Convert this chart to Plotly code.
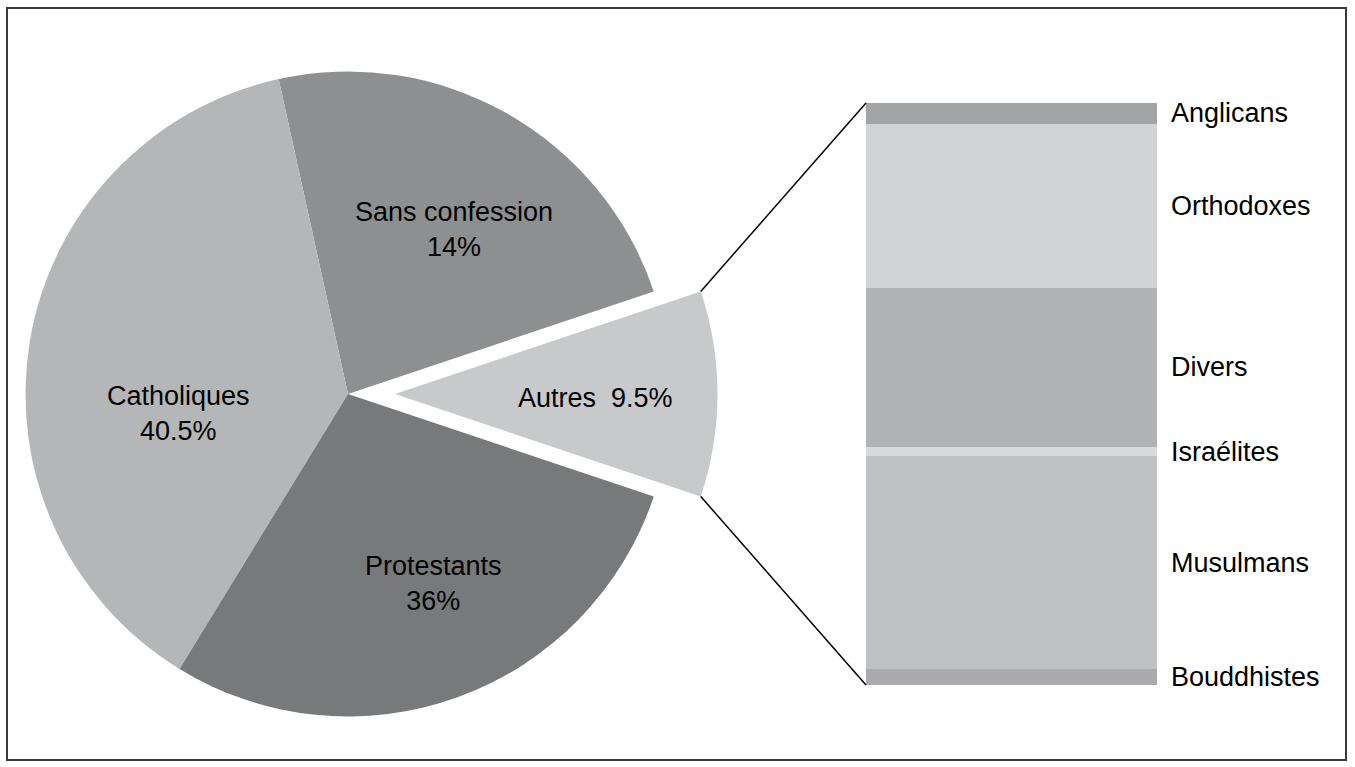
import plotly.graph_objects as go
import math

# ---------------- data ----------------
pie_categories = ["Sans confession", "Catholiques", "Protestants", "Autres"]
pie_shares = [23.3, 37.8, 28.6, 10.3]          # slice sizes as drawn
pie_labels_pct = ["14%", "40.5%", "36%", "9.5%"]  # printed labels
pie_colors = ["#8e8f91", "#b5b6b8", "#78797b", "#c8c9cb"]

bar_categories = ["Bouddhistes", "Musulmans", "Israélites", "Divers", "Orthodoxes", "Anglicans"]
bar_values = [0.26, 3.48, 0.15, 2.60, 2.68, 0.34]
bar_colors = ["#ababad", "#c0c1c3", "#d9dadc", "#b2b3b5", "#d2d3d5", "#a2a3a4"]

# ---------------- layout geometry (pixels) ----------------
W, H = 1355, 767
def px(x):
    return x / W
def py(y):
    return 1 - y / H

pie_cx, pie_cy, pie_r = 348, 394, 322.5
explode_px = 47
bar_left, bar_right, bar_top, bar_bottom = 866, 1157, 103, 685
FONT = "Liberation Sans, Arial, sans-serif"
FS = 27

total = sum(pie_shares)
ang = [360 * v / total for v in pie_shares]
# Autres centred at 3 o'clock; slices run counter-clockwise starting with Sans confession
rotation = 90 - ang[3] / 2 - ang[0]

fig = go.Figure()

dom_main = dict(x=[px(pie_cx - pie_r), px(pie_cx + pie_r)],
                y=[py(pie_cy + pie_r), py(pie_cy - pie_r)])
dom_expl = dict(x=[px(pie_cx + explode_px - pie_r), px(pie_cx + explode_px + pie_r)],
                y=[py(pie_cy + pie_r), py(pie_cy - pie_r)])

main_colors = pie_colors[:3] + ["rgba(0,0,0,0)"]
expl_colors = ["rgba(0,0,0,0)"] * 3 + [pie_colors[3]]

fig.add_trace(go.Pie(labels=pie_categories, values=pie_shares, sort=False,
                     direction="counterclockwise", rotation=rotation,
                     marker=dict(colors=main_colors, line=dict(width=0)),
                     textinfo="none", hoverinfo="skip", showlegend=False,
                     domain=dom_main))
fig.add_trace(go.Pie(labels=pie_categories, values=pie_shares, sort=False,
                     direction="counterclockwise", rotation=rotation,
                     marker=dict(colors=expl_colors, line=dict(width=0)),
                     textinfo="none", hoverinfo="skip", showlegend=False,
                     domain=dom_expl))

# stacked bar
for cat, val, col in zip(bar_categories, bar_values, bar_colors):
    fig.add_trace(go.Bar(x=[0], y=[val], name=cat, marker=dict(color=col, line=dict(width=0)),
                         width=1, hoverinfo="skip", showlegend=False))

bar_total = sum(bar_values)

annotations = []
pie_label_pos = [
    (454, 229, f"{pie_categories[0]}<br>{pie_labels_pct[0]}"),
    (178, 414, f"{pie_categories[1]}<br>{pie_labels_pct[1]}"),
    (433, 583, f"{pie_categories[2]}<br>{pie_labels_pct[2]}"),
    (595, 398, f"{pie_categories[3]}  {pie_labels_pct[3]}"),
]
for x, y, t in pie_label_pos:
    annotations.append(dict(x=px(x), y=py(y), xref="paper", yref="paper", text=t,
                            showarrow=False, xanchor="center", yanchor="middle",
                            font=dict(family=FONT, size=FS, color="#000000")))

cum = 0
for cat, val in zip(bar_categories, bar_values):
    mid = cum + val / 2
    cum += val
    annotations.append(dict(x=px(1169), y=mid, xref="paper", yref="y", text=cat,
                            showarrow=False, xanchor="left", yanchor="middle",
                            font=dict(family=FONT, size=FS, color="#000000")))

# connector lines
a = math.radians(ang[3] / 2)
ecx = pie_cx + explode_px
top_pt = (ecx + pie_r * math.cos(a), pie_cy - pie_r * math.sin(a))
bot_pt = (ecx + pie_r * math.cos(a), pie_cy + pie_r * math.sin(a))
shapes = [
    dict(type="line", xref="paper", yref="paper", x0=px(top_pt[0]), y0=py(top_pt[1]),
         x1=px(bar_left), y1=py(bar_top), line=dict(color="#000000", width=1.5)),
    dict(type="line", xref="paper", yref="paper", x0=px(bot_pt[0]), y0=py(bot_pt[1]),
         x1=px(bar_left), y1=py(bar_bottom), line=dict(color="#000000", width=1.5)),
    # chart border
    dict(type="rect", xref="paper", yref="paper", x0=px(7), y0=py(760), x1=px(1346), y1=py(8),
         line=dict(color="#3a3a3a", width=2), fillcolor="rgba(0,0,0,0)"),
]

fig.update_layout(
    width=W, height=H,
    margin=dict(l=0, r=0, t=0, b=0),
    paper_bgcolor="white", plot_bgcolor="white",
    barmode="stack", bargap=0,
    xaxis=dict(domain=[px(bar_left), px(bar_right)], range=[-0.5, 0.5], visible=False, fixedrange=True),
    yaxis=dict(domain=[py(bar_bottom), py(bar_top)], range=[0, bar_total], visible=False, fixedrange=True),
    annotations=annotations,
    shapes=shapes,
)

fig.write_html("out.html", config={"displayModeBar": False},
               post_script="document.body.style.margin='0';document.body.style.overflow='hidden';")
